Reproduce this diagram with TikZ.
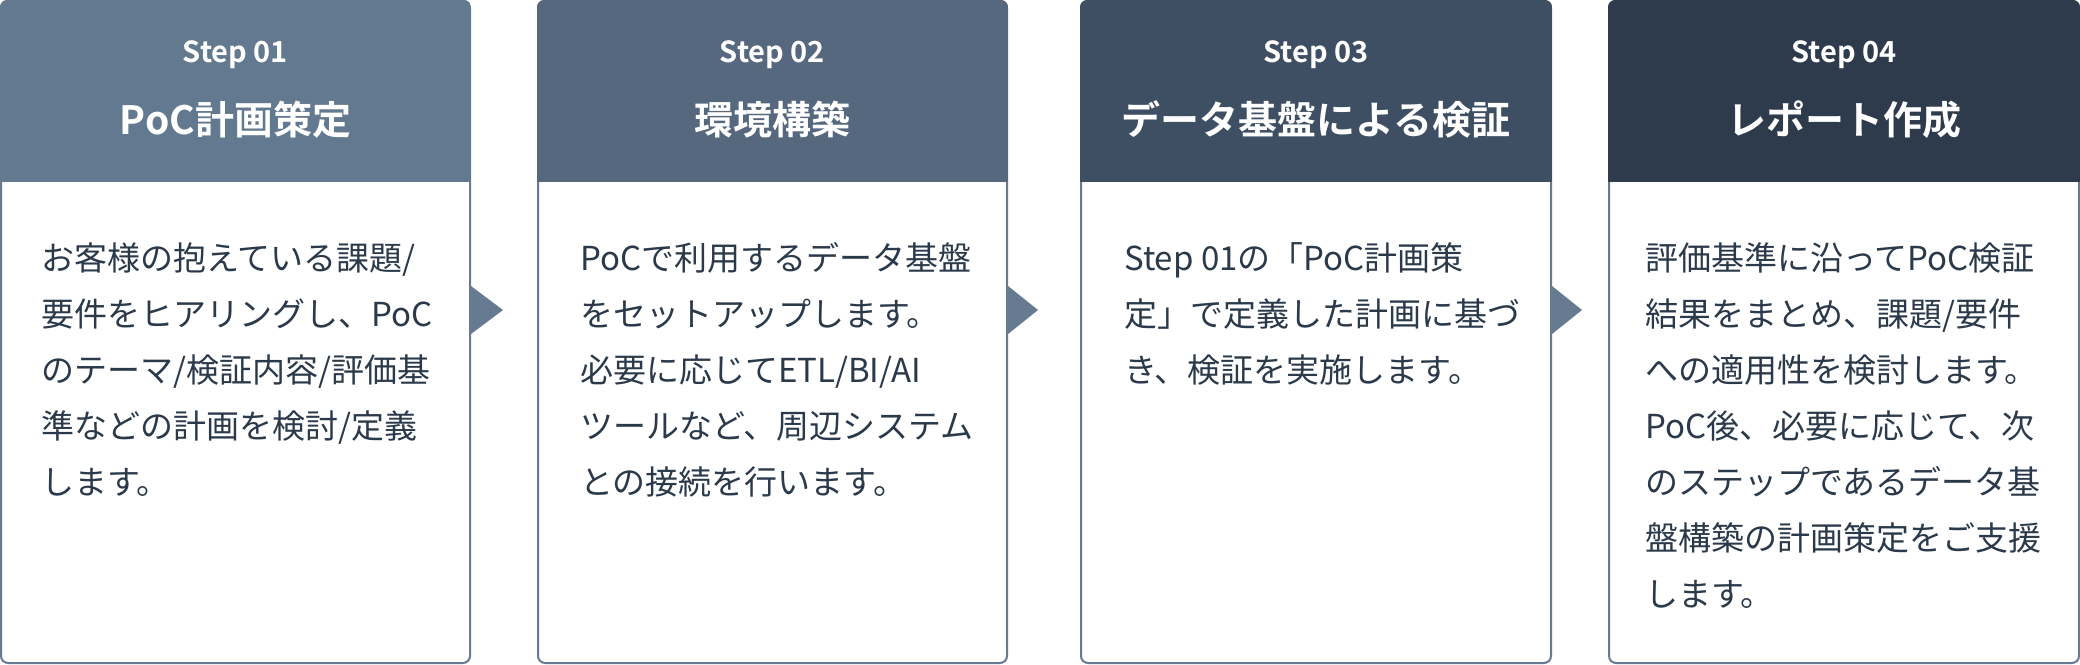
\documentclass[tikz,border=0pt]{standalone}
\usepackage{fontspec}
\setmainfont{Noto Sans CJK JP}[BoldFont={Noto Sans CJK JP Bold}]
\definecolor{hdrA}{HTML}{63798F}
\definecolor{hdrB}{HTML}{56687E}
\definecolor{hdrC}{HTML}{3E4F63}
\definecolor{hdrD}{HTML}{2D3B4D}
\definecolor{edgec}{HTML}{667B92}
\definecolor{bodyc}{HTML}{2B3A4A}
\tikzset{
  boxline/.style={draw=edgec, line width=2pt, fill=white, rounded corners=7pt},
  steplbl/.style={anchor=base, inner sep=0pt, text=white, font=\bfseries\fontsize{29pt}{34pt}\selectfont},
  ttl/.style={anchor=base, inner sep=0pt, text=white, font=\bfseries\fontsize{39pt}{47pt}\selectfont},
  bodytxt/.style={anchor=base west, inner sep=0pt, text=bodyc, font=\fontsize{33pt}{56pt}\selectfont},
  tri/.style={fill=edgec}
}
\newcommand{\stepcard}[4]{%
  % #1 left x, #2 right x, #3 header colour, #4 name
  \draw[boxline] (#1+1,1) rectangle (#2-1,663);
  \begin{scope}
    \clip[rounded corners=7pt] (#1,0) rectangle (#2,664);
    \fill[#3] (#1,0) rectangle (#2,182);
  \end{scope}
  \coordinate (#4) at ({(#1+#2)/2},0);
}
\begin{document}
\begin{tikzpicture}[x=1pt,y=-1pt]
\useasboundingbox (0,0) rectangle (2080,664);

\stepcard{0}{471}{hdrA}{c1}
\stepcard{537}{1008}{hdrB}{c2}
\stepcard{1080}{1552}{hdrC}{c3}
\stepcard{1608}{2080}{hdrD}{c4}

% arrows
\fill[tri] (471,286) -- (503,310) -- (471,334) -- cycle;
\fill[tri] (1008,286) -- (1038,310) -- (1008,334) -- cycle;
\fill[tri] (1552,286) -- (1582,310) -- (1552,334) -- cycle;

% headers
\node[steplbl] (s1) at (235.5,62) {Step 01};
\node[ttl] (t1) at (235.5,134.5) {PoC計画策定};
\node[steplbl] (s2) at (772.5,62) {Step 02};
\node[ttl] (t2) at (772.5,134.5) {環境構築};
\node[steplbl] (s3) at (1316,62) {Step 03};
\node[ttl] (t3) at (1316,134.5) {データ基盤による検証};
\node[steplbl] (s4) at (1844,62) {Step 04};
\node[ttl] (t4) at (1844,134.5) {レポート作成};

% bodies
\node[bodytxt] (b1) at (41,270) {\parbox[t]{460pt}{\fontsize{33pt}{56pt}\selectfont
お客様の抱えている課題/\\
要件をヒアリングし、PoC\\
のテーマ/検証内容/評価基\\
準などの計画を検討/定義\\
します。}};
\node[bodytxt] (b2) at (580,270) {\parbox[t]{460pt}{\fontsize{33pt}{56pt}\selectfont
PoCで利用するデータ基盤\\
をセットアップします。\\
必要に応じてETL/BI/AI\\
ツールなど、周辺システム\\
との接続を行います。}};
\node[bodytxt] (b3) at (1124,270) {\parbox[t]{460pt}{\fontsize{33pt}{56pt}\selectfont
Step 01の「PoC計画策\\
定」で定義した計画に基づ\\
き、検証を実施します。}};
\node[bodytxt] (b4) at (1645,270) {\parbox[t]{460pt}{\fontsize{33pt}{56pt}\selectfont
評価基準に沿ってPoC検証\\
結果をまとめ、課題/要件\\
への適用性を検討します。\\
PoC後、必要に応じて、次\\
のステップであるデータ基\\
盤構築の計画策定をご支援\\
します。}};
\end{tikzpicture}
\end{document}
